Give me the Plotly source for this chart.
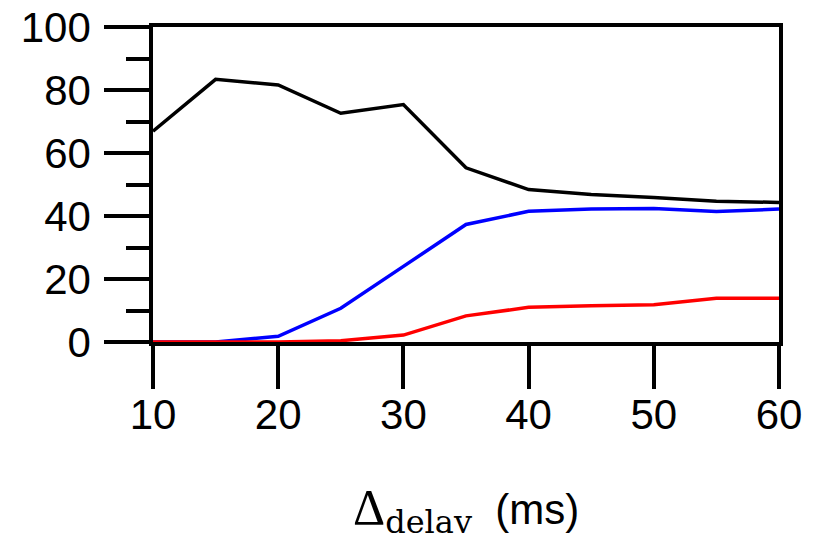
import plotly.graph_objects as go

# delay values (ms) and the three curves (percent)
delay = [10, 15, 20, 25, 30, 35, 40, 45, 50, 55, 60]
black_vals = [66.9, 83.4, 81.6, 72.6, 75.4, 55.3, 48.4, 46.8, 45.9, 44.7, 44.3]
blue_vals = [0, 0, 1.8, 10.7, 24.0, 37.3, 41.5, 42.2, 42.4, 41.4, 42.2]
red_vals = [0, 0, 0, 0.4, 2.2, 8.3, 11.0, 11.5, 11.8, 13.9, 13.9]

fig = go.Figure()
for vals, col in [(black_vals, "black"), (blue_vals, "#0000ff"), (red_vals, "#ff0000")]:
    fig.add_trace(go.Scatter(x=delay, y=vals, mode="lines",
                             line=dict(color=col, width=3.5), showlegend=False))

tickfont = dict(family="Liberation Sans, Arial", size=42, color="black")

# the page body adds ~7px offset, so margins are shifted to compensate
fig.update_layout(
    width=822, height=533,
    margin=dict(l=145, r=51, t=19, b=199),
    paper_bgcolor="white", plot_bgcolor="white",
    xaxis=dict(range=[10, 60], tickvals=[10, 20, 30, 40, 50, 60], automargin=False,
               showline=True, mirror=True, linecolor="black", linewidth=3.5,
               ticks="outside", ticklen=43, tickwidth=3.5, tickcolor="black",
               showgrid=False, zeroline=False, tickfont=tickfont, ticklabelstandoff=-10,
               ticklabeloverflow="allow"),
    yaxis=dict(range=[0, 100], tickvals=[0, 20, 40, 60, 80, 100], automargin=False,
               showline=True, mirror=True, linecolor="black", linewidth=3.5,
               ticks="outside", ticklen=45, tickwidth=3.5, tickcolor="black",
               minor=dict(tickvals=[10, 30, 50, 70, 90], ticks="outside",
                          ticklen=23, tickwidth=3.5, tickcolor="black", showgrid=False),
               showgrid=False, zeroline=False, tickfont=tickfont, ticklabelstandoff=5,
               ticklabeloverflow="allow"),
)

# axis title placed as an annotation below the tick labels
fig.add_annotation(
    x=0.5, y=-0.43, xref="paper", yref="paper", xanchor="center", yanchor="top",
    showarrow=False,
    text=("<span style=\"font-family:'Liberation Serif'; font-size:50px\">Δ</span>"
          "<sub><span style=\"font-family:'DejaVu Serif'; font-size:32px\">delay</span></sub>"
          "\u00a0 (ms)"),
    font=dict(family="Liberation Sans, Arial", size=42, color="black"),
)

fig.write_html("out.html")
